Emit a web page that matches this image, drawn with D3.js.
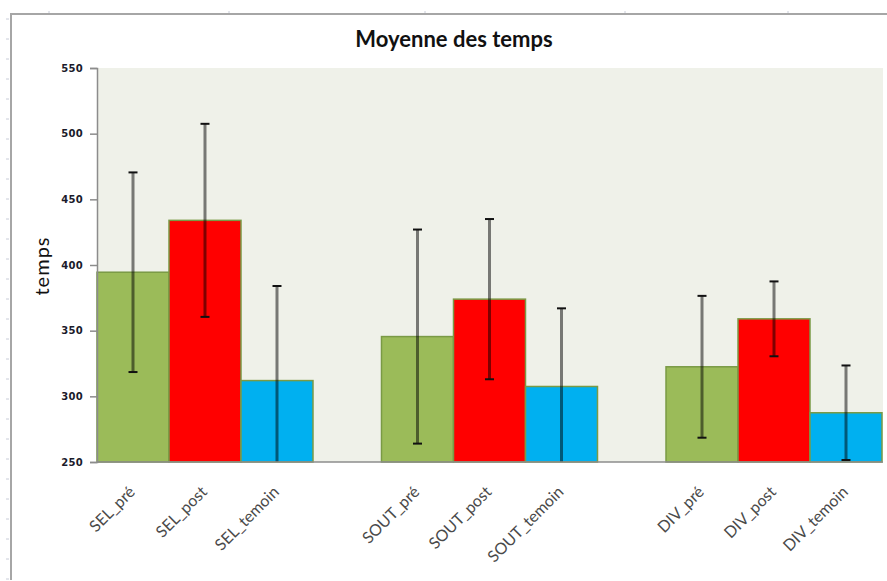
<!DOCTYPE html>
<html><head><meta charset="utf-8">
<script src="https://cdn.jsdelivr.net/npm/d3@7"></script>
<style>body{margin:0;background:#fff}svg{display:block}</style>
</head><body>
<script>
const groups = ["SEL", "SOUT", "DIV"];
const conditions = ["pré", "post", "temoin"];
const labels = ["SEL_pré","SEL_post","SEL_temoin","SOUT_pré","SOUT_post","SOUT_temoin","DIV_pré","DIV_post","DIV_temoin"];
const means = [394.5, 434, 312, 345.5, 374, 307.5, 322.5, 359, 287.5];
const sds   = [76, 73.5, 72, 81.5, 61, 59.5, 54, 28.5, 36];
const yTicks = [250, 300, 350, 400, 450, 500, 550];
const colors = ["#9BBB59", "#FF0000", "#00B0F0"];

const W = 887, H = 581;
const svg = d3.select("body").append("svg").attr("width", W).attr("height", H);

const plot = {l: 97, t: 68, r: 882, b: 462};

// frame
svg.append("line").attr("x1", 11).attr("x2", 11).attr("y1", 13).attr("y2", 580).attr("stroke", "#a6a6a6").attr("stroke-width", 2);
svg.append("line").attr("x1", 10).attr("x2", W).attr("y1", 14).attr("y2", 14).attr("stroke", "#a6a6a6").attr("stroke-width", 2);
const rulerY = d3.range(19, 580, 20);
svg.selectAll(".rl").data(rulerY).join("line").attr("x1", 6).attr("x2", 9).attr("y1", d => d).attr("y2", d => d).attr("stroke", "#c8ccd8").attr("stroke-width", 1);
svg.selectAll(".rt").data([49, 229, 425, 625, 788]).join("line").attr("x1", d => d).attr("x2", d => d).attr("y1", 11).attr("y2", 13).attr("stroke", "#c8ccd8").attr("stroke-width", 1);

// background
svg.append("rect").attr("x", plot.l).attr("y", plot.t).attr("width", 883 - plot.l).attr("height", plot.b - plot.t).attr("fill", "#EFF1E9");

const y = d3.scaleLinear().domain([250, 550]).range([plot.b, plot.t]);
const xg = d3.scaleBand().domain(groups).range([plot.l, plot.r]).paddingInner(0.2408).paddingOuter(0);
const xc = d3.scaleBand().domain(conditions).range([0, xg.bandwidth()]).padding(0);

const data = labels.map((lab, i) => ({lab, g: groups[Math.floor(i / 3)], c: conditions[i % 3], m: means[i], s: sds[i], col: colors[i % 3]}));
const xOf = d => xg(d.g) + xc(d.c);

svg.selectAll(".bar").data(data).join("rect")
  .attr("x", d => xOf(d)).attr("y", d => y(d.m))
  .attr("width", xc.bandwidth()).attr("height", d => y(250) - y(d.m))
  .attr("fill", d => d.col).attr("stroke", "#7A9A45").attr("stroke-width", 1.5);

// error bars
const clip = v => Math.max(250, Math.min(550, v));
const eb = svg.selectAll(".eb").data(data).join("g");
eb.append("line")
  .attr("x1", d => xOf(d) + xc.bandwidth() / 2).attr("x2", d => xOf(d) + xc.bandwidth() / 2)
  .attr("y1", d => y(clip(d.m - d.s))).attr("y2", d => y(clip(d.m + d.s)))
  .attr("stroke", "#000").attr("stroke-opacity", 0.5).attr("stroke-width", 3);
eb.each(function(d) {
  const g = d3.select(this), cx = xOf(d) + xc.bandwidth() / 2;
  [d.m + d.s, d.m - d.s].forEach(v => {
    if (v >= 250 && v <= 550) g.append("line").attr("x1", cx - 4.5).attr("x2", cx + 4.5).attr("y1", y(v)).attr("y2", y(v)).attr("stroke", "#111").attr("stroke-width", 2);
  });
});

// axes
const yAxis = svg.append("g").attr("transform", `translate(${plot.l},0)`)
  .call(d3.axisLeft(y).tickValues(yTicks).tickSize(7).tickPadding(7));
yAxis.select(".domain").attr("stroke", "#8c8c8c").attr("stroke-width", 1.5);
yAxis.selectAll(".tick line").attr("stroke", "#8c8c8c").attr("stroke-width", 1.5);
yAxis.selectAll(".tick text").attr("font-family", "DejaVu Sans").attr("font-weight", "bold").attr("font-size", 10).attr("letter-spacing", 0.3).attr("fill", "#1a1a2a");

svg.append("line").attr("x1", plot.l).attr("x2", 883).attr("y1", plot.b).attr("y2", plot.b).attr("stroke", "#8c8c8c").attr("stroke-width", 1.5);

svg.selectAll(".xl").data(data).join("text")
  .attr("transform", d => `translate(${xOf(d) + xc.bandwidth() / 2 + 3},${plot.b + 31}) rotate(-45)`)
  .attr("text-anchor", "end")
  .attr("font-family", "Lato").attr("font-size", 16).attr("fill", "#4a4a4a")
  .text(d => d.lab);

svg.append("text").attr("x", 454).attr("y", 47).attr("text-anchor", "middle")
  .attr("font-family", "Lato").attr("font-weight", "bold").attr("font-size", 22).attr("fill", "#111")
  .text("Moyenne des temps");

svg.append("text").attr("transform", "translate(49,266) rotate(-90)").attr("text-anchor", "middle")
  .attr("font-family", "Lato").attr("font-size", 20).attr("letter-spacing", 1).attr("fill", "#111")
  .text("temps");
</script>
</body></html>
